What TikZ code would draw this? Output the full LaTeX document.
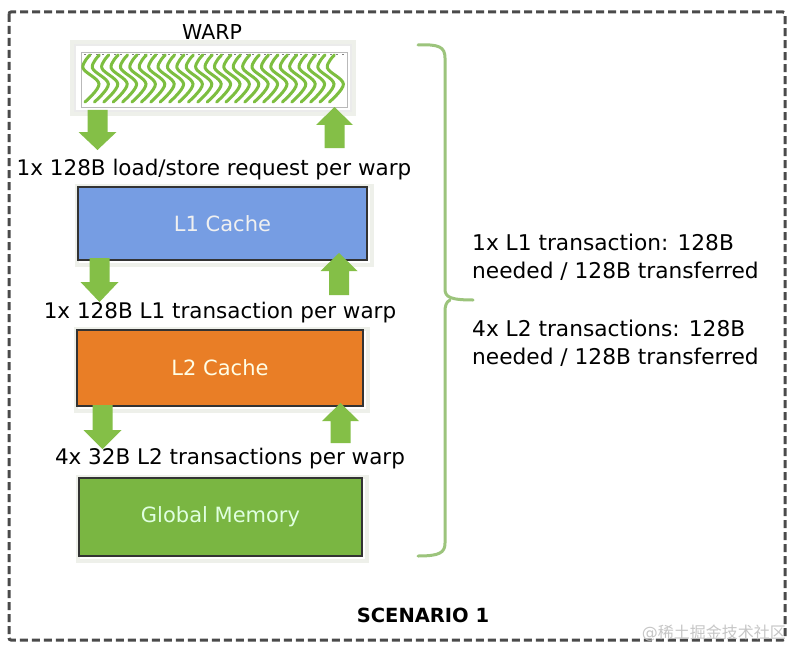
\documentclass[tikz,border=0pt]{standalone}
\usepackage{fontspec}
\setmainfont{DejaVu Sans}
\newfontfamily\cjkfont{Noto Sans CJK SC}
\definecolor{bordergray}{HTML}{4A4A4A}
\definecolor{lonefill}{HTML}{769DE3}
\definecolor{ltwofill}{HTML}{E97E26}
\definecolor{gmfill}{HTML}{7AB642}
\definecolor{arrowgreen}{HTML}{84BF47}
\definecolor{wavegreen}{HTML}{7DBE40}
\definecolor{bracegreen}{HTML}{9CC47C}
\definecolor{glow}{HTML}{EEF0EA}
\newcommand{\blockdown}[4]{% cx, top, headbase, tip
  \fill[arrowgreen] (#1-10,#2) -- (#1+10,#2) -- (#1+10,#3) -- (#1+19,#3) -- (#1,#4) -- (#1-19,#3) -- (#1-10,#3) -- cycle;}
\newcommand{\blockup}[4]{% cx, bottom, headbase, tip
  \fill[arrowgreen] (#1-10,#2) -- (#1+10,#2) -- (#1+10,#3) -- (#1+18.5,#3) -- (#1,#4) -- (#1-18.5,#3) -- (#1-10,#3) -- cycle;}
\begin{document}
\begin{tikzpicture}[x=1pt,y=-1pt,
  lbl/.style={font=\fontsize{21.5}{25}\selectfont, inner sep=0pt},
  boxtext/.style={font=\fontsize{21}{25}\selectfont},
  cachebox/.style={draw=black!80, line width=1.2pt, inner sep=0pt, boxtext},
  glowbox/.style={draw=glow, line width=4pt, inner sep=0pt},
  wave/.style={wavegreen, line width=3pt, line cap=round},
  brace/.style={bracegreen, line width=3pt, line cap=round},
  outline/.style={bordergray, line width=3pt, dash pattern=on 8pt off 4pt}]
\useasboundingbox (0,0) rectangle (797,650);
\fill[white] (0,0) rectangle (797,650);
% outer dashed frame
\draw[outline, rounded corners=2pt] (9,12) rectangle (785,640);
% WARP
\node[lbl, font=\fontsize{20.5}{25}\selectfont] (warplbl) at (212,32) {WARP};
\node[glowbox, minimum width=282pt, minimum height=72pt] (warpglow) at (213,78) {};
\node[draw=black!8, line width=1.5pt, fill=white, inner sep=0pt, minimum width=276pt, minimum height=66pt] (warp) at (213,78) {};
\node[draw=gray!55, line width=0.8pt, inner sep=0pt, minimum width=266pt, minimum height=55pt] (warpin) at (214,79.5) {};
\begin{scope}
\clip (81,52) rectangle (347,107);
\draw[black!50, line width=1pt, dash pattern=on 2pt off 4pt] (84,55) -- (345,55);
\foreach \i in {0,...,26}{
  \pgfmathsetmacro\xx{83+9.4*\i}
  \draw[wave] plot[smooth, tension=0.6] coordinates {(\xx+7,55) (\xx,68) (\xx+16,84) (\xx+2,102)};
}
\end{scope}
% arrows row 1
\blockdown{97.5}{110}{132}{150}
\blockup{334.5}{148}{125}{107}
\node[lbl] (req) at (214,170) {1x 128B load/store request per warp};
% L1
\node[glowbox, minimum width=295pt, minimum height=79pt] (l1glow) at (224,225) {};
\node[cachebox, fill=lonefill, text=white!94!black, minimum width=289pt, minimum height=73pt] (l1) at (222.5,223.5) {L1 Cache};
% arrows row 2
\blockdown{99.5}{258}{282}{302}
\blockup{339}{295}{271}{253}
\node[lbl] (l1t) at (220,313) {1x 128B L1 transaction per warp};
% L2
\node[glowbox, minimum width=292pt, minimum height=82pt] (l2glow) at (221.5,369.5) {};
\node[cachebox, fill=ltwofill, text=white!90!yellow, minimum width=286pt, minimum height=76pt] (l2) at (220,368) {L2 Cache};
% arrows row 3
\blockdown{102.5}{405}{430}{449}
\blockup{340.5}{443}{421}{403}
\node[lbl] (l2t) at (230,459) {4x 32B L2 transactions per warp};
% Global memory
\node[glowbox, minimum width=289pt, minimum height=84pt] (gmglow) at (222,518.5) {};
\node[cachebox, fill=gmfill, text=white!88!green, minimum width=283pt, minimum height=78pt] (gm) at (220.5,517) {Global Memory};
% brace
\coordinate (btop) at (418,45);
\coordinate (btip) at (473,300);
\coordinate (bbot) at (418,556);
\draw[brace] (btop) .. controls (439,44) and (445,47) .. (445,58) -- (445,289) .. controls (445,297) and (450,300) .. (btip);
\draw[brace] (450,300) .. controls (446,302) and (445,306) .. (445,312) -- (445,543) .. controls (445,553) and (439,556) .. (bbot);
% right texts
\node[lbl, anchor=west, align=left, font=\fontsize{21.7}{28}\selectfont] (sum1) at (472,257) {1x L1 transaction: 128B\\needed / 128B transferred};
\node[lbl, anchor=west, align=left, font=\fontsize{21.7}{28}\selectfont] (sum2) at (472,343) {4x L2 transactions: 128B\\needed / 128B transferred};
% scenario
\node[lbl, font=\fontsize{19.5}{23}\selectfont\bfseries] (scen) at (423,615) {SCENARIO 1};
% watermark
\node[inner sep=0pt, text=gray!45, font=\fontsize{16}{18}\selectfont, anchor=east] (wm) at (786,633) {@{\cjkfont 稀土掘金技术社区}};
\end{tikzpicture}
\end{document}
